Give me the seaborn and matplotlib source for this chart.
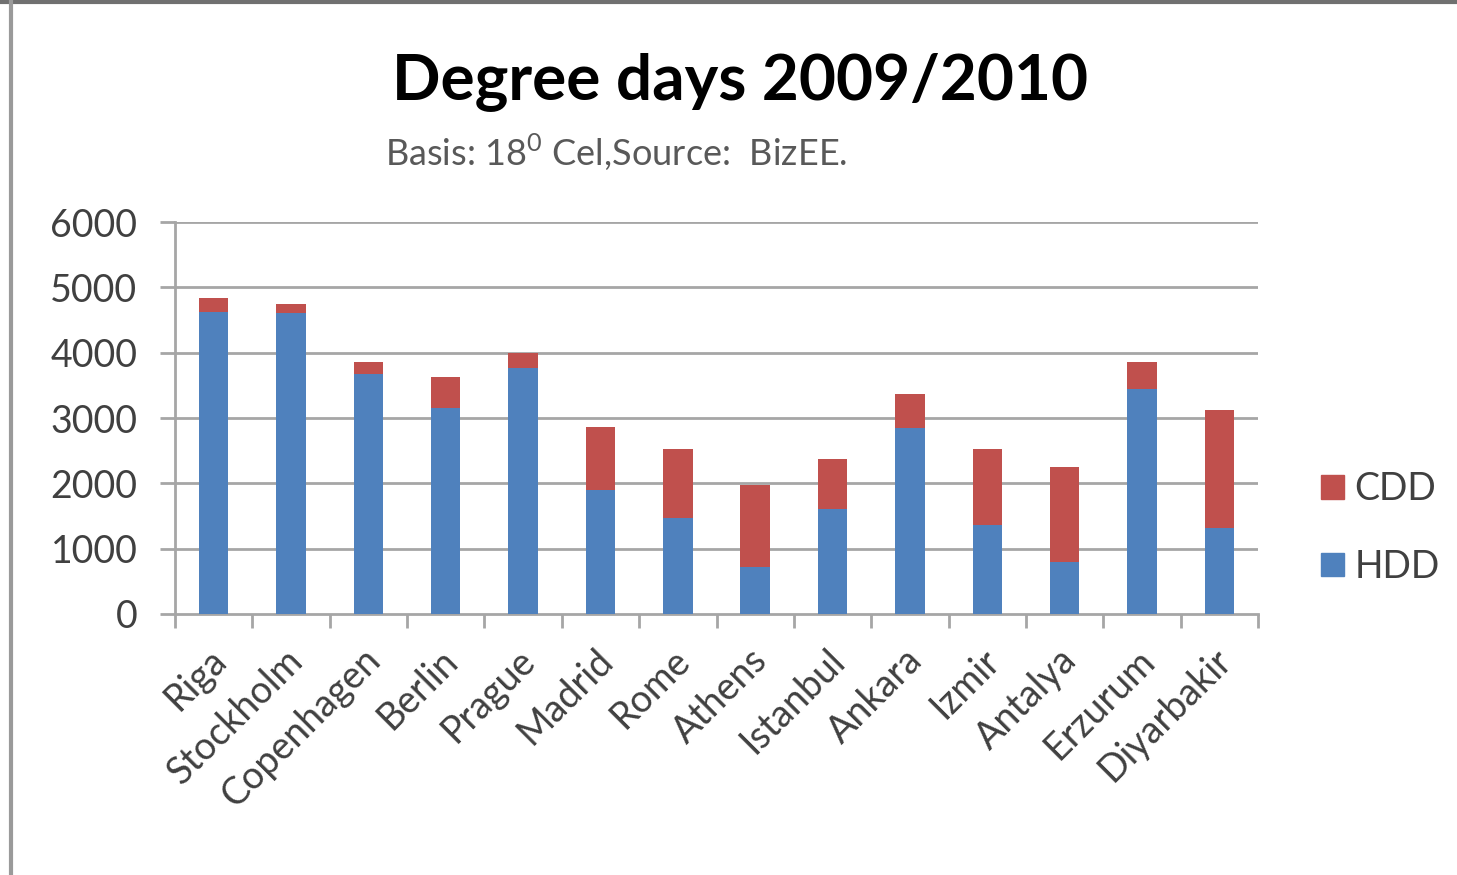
import matplotlib
matplotlib.use("Agg")
import matplotlib.pyplot as plt
import matplotlib.patches as mpatches
import matplotlib.transforms as mtransforms
from matplotlib.lines import Line2D
import numpy as np
import pandas as pd
import seaborn as sns

cities = ["Riga", "Stockholm", "Copenhagen", "Berlin", "Prague", "Madrid", "Rome",
          "Athens", "Istanbul", "Ankara", "Izmir", "Antalya", "Erzurum", "Diyarbakir"]
hdd = [4620, 4600, 3680, 3150, 3760, 1900, 1470, 720, 1600, 2840, 1360, 800, 3440, 1310]
cdd = [210, 150, 170, 470, 230, 960, 1050, 1260, 780, 530, 1160, 1455, 410, 1815]
y_ticks = [0, 1000, 2000, 3000, 4000, 5000, 6000]

blue = "#4F81BD"
red = "#C0504D"
grid_gray = "#A6A6A6"
text_gray = "#404040"

df = pd.DataFrame({"city": cities, "HDD": hdd, "CDD": cdd})
df["total"] = df["HDD"] + df["CDD"]

sns.set_theme(style="white")
plt.rcParams["font.family"] = ["Lato", "DejaVu Sans"]

fig = plt.figure(figsize=(14.57, 8.75), dpi=100)
fig.patch.set_facecolor("white")
ax = fig.add_axes([175 / 1457, 1 - 614 / 875, (1258 - 175) / 1457, (614 - 222) / 875])

# stacked bars: the total in red, then the heating part in blue over it
sns.barplot(data=df, x="city", y="total", color=red, width=0.38,
            saturation=1, ax=ax, zorder=3, linewidth=0)
sns.barplot(data=df, x="city", y="HDD", color=blue, width=0.38,
            saturation=1, ax=ax, zorder=4, linewidth=0)

ax.set_xlim(-0.5, len(cities) - 0.5)
ax.set_ylim(0, 6000)
ax.set_yticks(y_ticks)
ax.set_yticklabels([str(v) for v in y_ticks], fontsize=27, color=text_gray)
ax.set_xlabel("")
ax.set_ylabel("")

for v in y_ticks[1:]:
    ax.axhline(v, color=grid_gray, lw=2, zorder=1)

for side in ["top", "right"]:
    ax.spines[side].set_visible(False)
for side in ["left", "bottom"]:
    ax.spines[side].set_color(grid_gray)
    ax.spines[side].set_linewidth(2)

ax.tick_params(axis="y", direction="out", length=11, width=2, color=grid_gray,
               left=True, pad=16)

# category labels at bar centres, tick marks at category boundaries
ax.set_xticks(np.arange(len(cities)))
ax.set_xticklabels(cities, rotation=45, ha="right", rotation_mode="anchor",
                   fontsize=27, color=text_gray)
ax.tick_params(axis="x", which="major", length=0, pad=20)
shift = mtransforms.ScaledTranslation(-6 / 100, 0, fig.dpi_scale_trans)
for lbl in ax.get_xticklabels():
    lbl.set_transform(lbl.get_transform() + shift)
ax.set_xticks(np.arange(-0.5, len(cities)), minor=True)
ax.tick_params(axis="x", which="minor", direction="out", length=10, width=2,
               color=grid_gray, bottom=True)

fig.text(740 / 1457, 1 - 82 / 875, "Degree days 2009/2010", ha="center", va="center",
         fontsize=46, fontweight="bold", color="black")
fig.text(385 / 1457, 1 - 152 / 875, "Basis: 18$^{\\mathregular{0}}$ Cel,Source:  BizEE.",
         ha="left", va="center", fontsize=26, color="#595959")

handles = [mpatches.Patch(facecolor=red, edgecolor=red, label="CDD"),
           mpatches.Patch(facecolor=blue, edgecolor=blue, label="HDD")]
leg = fig.legend(handles=handles, loc="center left",
                 bbox_to_anchor=(1321 / 1457, 1 - 528 / 875), frameon=False,
                 fontsize=27, handlelength=0.6, handleheight=0.6,
                 handletextpad=0.3, labelspacing=1.1,
                 borderaxespad=0, borderpad=0)
for t in leg.get_texts():
    t.set_color(text_gray)

# outer frame lines
fig.add_artist(Line2D([0, 1], [1 - 1.5 / 875, 1 - 1.5 / 875], color="#707070", lw=3,
                      transform=fig.transFigure))
fig.add_artist(Line2D([11 / 1457, 11 / 1457], [0, 1], color="#9a9a9a", lw=3,
                      transform=fig.transFigure))

fig.savefig("out.png", dpi=100, facecolor="white")
